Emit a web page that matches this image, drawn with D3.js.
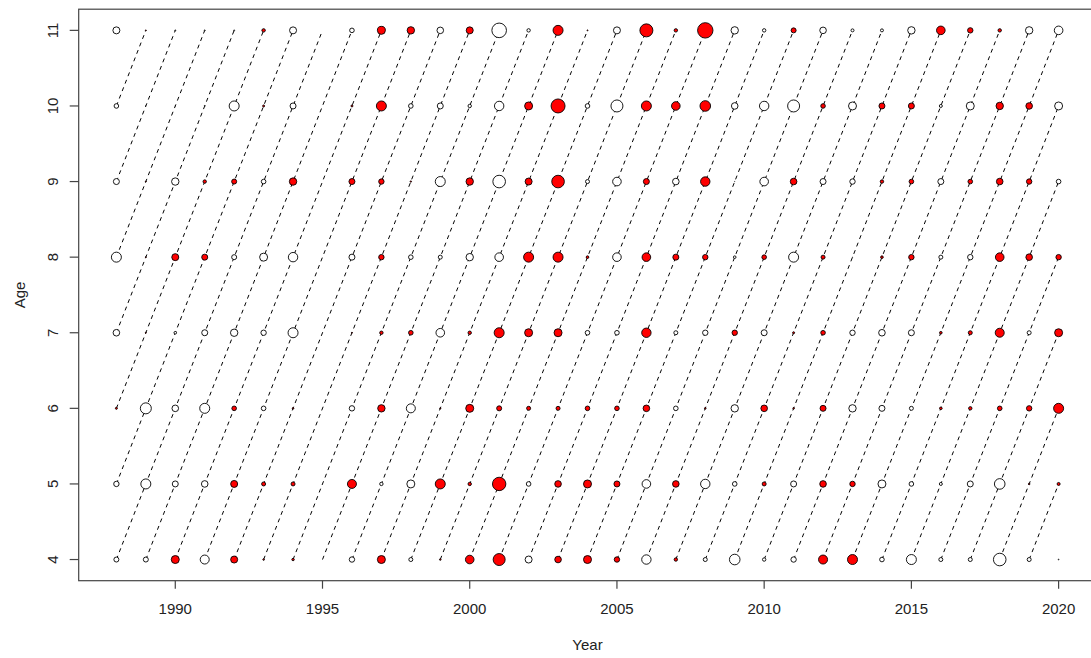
<!DOCTYPE html>
<html>
<head>
<meta charset="utf-8">
<script src="https://cdn.jsdelivr.net/npm/d3@7"></script>
<style>
  html, body { margin: 0; padding: 0; background: #fff; }
  svg { display: block; }
  text { font-family: "Liberation Sans", Arial, sans-serif; fill: #222; }
</style>
</head>
<body>
<svg id="chart" width="1091" height="658"></svg>
<script>
// ---- data ----
const years = d3.range(1988, 2021);           // 1988..2020
const ages = [4, 5, 6, 7, 8, 9, 10, 11];
const xTicks = [1990, 1995, 2000, 2005, 2010, 2015, 2020];
const yTicks = [4, 5, 6, 7, 8, 9, 10, 11];
// residuals by age (positive = red, negative = white), one value per year 1988..2020
const age4  = [-1.25,-1.25,2.0,-2.25,1.75,0.4,0.6,null,-1.35,2.0,-1.0,0.4,2.15,3.0,-1.75,1.65,2.0,1.35,-2.35,0.85,-1.0,-2.65,-0.85,-1.35,2.25,2.5,-1.15,-2.5,-1.0,-1.0,-3.15,-1.0,-0.2];
const age5  = [-1.35,-2.5,-1.5,-1.65,1.75,1.0,1.0,null,2.25,-0.85,-2.0,2.5,0.85,3.35,-1.15,1.65,2.0,1.5,-2.15,1.65,-2.35,-1.15,1.0,-1.5,1.65,1.35,-2.0,-1.15,-0.75,-1.5,-2.65,0.4,0.75];
const age6  = [0.5,-2.75,-1.65,-2.5,1.15,-1.15,0.4,null,-1.35,1.85,-2.25,0.3,2.0,1.25,1.0,1.0,1.15,1.15,1.65,-1.15,0.4,-1.85,1.65,0.4,1.5,-1.85,-1.5,-1.0,0.65,0.85,1.15,1.35,2.5];
const age7  = [-1.65,0.25,-0.65,-1.5,-1.85,-1.35,-2.5,null,0.25,0.85,1.15,-2.15,0.85,2.5,2.0,2.0,-1.15,-1.15,2.35,-1.0,-1.35,1.35,-1.5,0.5,1.15,-1.35,-1.65,-1.5,0.65,1.0,2.25,-1.0,2.0];
const age8  = [-2.5,0.25,1.75,1.5,-1.25,-2.0,-2.35,null,-1.5,1.35,-1.15,-1.0,-1.85,-2.15,2.5,2.5,0.65,-2.15,2.15,1.5,1.35,-0.65,1.15,-2.5,1.0,-0.1,0.65,1.35,-1.0,-1.35,2.15,1.65,1.35];
const age9  = [-1.5,0.25,-1.85,0.85,1.25,-1.15,1.85,null,1.5,1.35,0.35,-2.5,1.85,-3.15,1.75,3.15,-1.0,-2.15,1.5,-1.65,2.35,-0.1,-2.15,1.65,-1.5,-1.35,0.85,1.15,-1.5,1.15,1.65,1.35,-1.15];
const age10 = [-1.15,-0.1,-0.1,-0.25,-2.5,0.5,-1.5,null,0.5,2.5,-1.15,-1.5,-0.85,-2.35,2.0,3.5,-1.15,-3.0,2.5,2.15,2.65,-1.65,-2.35,-3.0,1.15,-2.0,1.5,1.5,-0.75,-2.0,1.85,1.65,-2.0];
const age11 = [-1.75,0.25,-0.25,-0.25,-0.25,0.85,-1.75,null,-1.15,2.0,1.85,-1.65,1.75,-3.65,-0.85,2.5,0.25,-1.75,3.25,0.85,3.85,-1.85,-0.85,1.25,-1.65,-0.75,-0.75,-1.85,2.15,1.35,0.85,-1.85,-2.15];

const residualsByAge = [age4, age5, age6, age7, age8, age9, age10, age11];

// ---- layout ----
const svg = d3.select("#chart");
const mLeft = 78.7, mRight = 1096.3, mTop = 9.2, mBottom = 580.7;

const xMin = d3.min(years), xMax = d3.max(years);
const xPad = (xMax - xMin) * 0.04;
const x = d3.scaleLinear().domain([xMin - xPad, xMax + xPad]).range([mLeft, mRight]);
const yMin = d3.min(ages), yMax = d3.max(ages);
const yPad = (yMax - yMin) * 0.04;
const y = d3.scaleLinear().domain([yMin - yPad, yMax + yPad]).range([mBottom, mTop]);
const r = d3.scaleLinear().domain([0, 4]).range([0, 8]);

// points
const points = [];
ages.forEach((a, i) => {
  residualsByAge[i].forEach((v, j) => {
    if (v !== null) points.push({ year: years[j], age: a, v: v });
  });
});

// cohort lines
const cohorts = d3.range(xMin - yMax, xMax - yMin + 1);
const lineData = [];
cohorts.forEach(c => {
  const y0 = Math.max(xMin, c + yMin), y1 = Math.min(xMax, c + yMax);
  if (y1 > y0) lineData.push([[y0, y0 - c], [y1, y1 - c]]);
});

const plot = svg.append("g");
plot.selectAll("line.cohort").data(lineData).join("line")
  .attr("class", "cohort")
  .attr("x1", d => x(d[0][0])).attr("y1", d => y(d[0][1]))
  .attr("x2", d => x(d[1][0])).attr("y2", d => y(d[1][1]))
  .attr("stroke", "#000").attr("stroke-width", 1)
  .attr("stroke-dasharray", "4,4");

plot.selectAll("circle").data(points).join("circle")
  .attr("cx", d => x(d.year)).attr("cy", d => y(d.age))
  .attr("r", d => r(Math.abs(d.v)))
  .attr("fill", d => d.v > 0 ? "#ff0000" : "#ffffff")
  .attr("stroke", "#000").attr("stroke-width", 0.9);

// box
svg.append("rect")
  .attr("x", mLeft).attr("y", mTop)
  .attr("width", mRight - mLeft).attr("height", mBottom - mTop)
  .attr("fill", "none").attr("stroke", "#444").attr("stroke-width", 1.2);

// x axis
const xAxis = svg.append("g");
xAxis.selectAll("line").data(xTicks).join("line")
  .attr("x1", d => x(d)).attr("x2", d => x(d))
  .attr("y1", mBottom).attr("y2", mBottom + 8)
  .attr("stroke", "#444").attr("stroke-width", 1.2);
xAxis.selectAll("text").data(xTicks).join("text")
  .attr("x", d => x(d)).attr("y", 614)
  .attr("text-anchor", "middle").attr("font-size", 15)
  .text(d => d);

// y axis
const yAxis = svg.append("g");
yAxis.selectAll("line").data(yTicks).join("line")
  .attr("x1", mLeft - 9).attr("x2", mLeft)
  .attr("y1", d => y(d)).attr("y2", d => y(d))
  .attr("stroke", "#444").attr("stroke-width", 1.2);
yAxis.selectAll("text").data(yTicks).join("text")
  .attr("transform", d => `translate(57.5,${y(d)}) rotate(-90)`)
  .attr("text-anchor", "middle").attr("font-size", 15)
  .text(d => d);

// titles
svg.append("text").attr("x", (mLeft + mRight) / 2).attr("y", 650)
  .attr("text-anchor", "middle").attr("font-size", 15).text("Year");
svg.append("text")
  .attr("transform", `translate(25,${(mTop + mBottom) / 2}) rotate(-90)`)
  .attr("text-anchor", "middle").attr("font-size", 15).text("Age");
</script>
</body>
</html>
